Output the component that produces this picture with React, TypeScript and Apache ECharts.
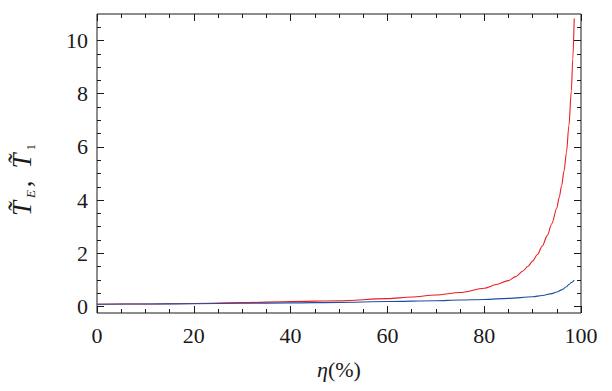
import React, { useEffect, useRef } from "react";
import * as echarts from "echarts";

// η (%) values and curve values
const redEta = [0, 10, 20, 30, 40, 50, 60, 65, 70, 75, 80, 82.5, 85, 86.5, 88, 89, 90, 91, 92, 93, 94, 95, 95.5, 96, 96.5, 97, 97.5, 98, 98.3, 98.6];
const redT = [0.08, 0.09, 0.11, 0.14, 0.18, 0.21, 0.29, 0.35, 0.43, 0.52, 0.68, 0.82, 0.97, 1.12, 1.33, 1.5, 1.7, 1.95, 2.27, 2.65, 3.12, 3.7, 4.1, 4.55, 5.1, 5.8, 6.8, 8.1, 9.3, 10.83];

const blueEta = [0, 10, 20, 30, 40, 50, 60, 70, 75, 80, 85, 90, 92, 94, 95, 96, 97, 97.5, 98, 98.6];
const blueT = [0.08, 0.09, 0.1, 0.115, 0.13, 0.15, 0.18, 0.21, 0.24, 0.26, 0.3, 0.36, 0.41, 0.48, 0.54, 0.62, 0.74, 0.82, 0.9, 0.99];

// tick values
const yMajorTicks = [0, 2, 4, 6, 8, 10];
const yMinorTicks = [0.5, 1, 1.5, 2.5, 3, 3.5, 4.5, 5, 5.5, 6.5, 7, 7.5, 8.5, 9, 9.5, 10.5];

const FONT = "Liberation Serif";
const INK = "#1a1a1a";

export default function App() {
  const ref = useRef<HTMLDivElement>(null);
  useEffect(() => {
    if (!ref.current) return;
    const chart = echarts.init(ref.current, null, { renderer: "svg" });
    const gridPos = { left: 97, right: 31, top: 14, bottom: 78, containLabel: false };
    const lineStyle = { color: INK, width: 1 };
    const labelRich = { a: { fontFamily: FONT, fontSize: 22, color: INK } };
    const xBase = {
      type: "value",
      min: 0,
      max: 100,
      interval: 20,
      splitLine: { show: false },
      axisLine: { show: false, onZero: false },
      axisTick: { show: true, inside: true, length: 7, lineStyle },
      minorTick: { show: true, splitNumber: 4, length: 4, lineStyle },
    };
    const yBase = {
      type: "value",
      min: -0.25,
      max: 11,
      splitLine: { show: false },
      axisLine: { show: false, onZero: false },
    };
    chart.setOption({
      animation: false,
      textStyle: { fontFamily: FONT, color: INK },
      grid: [
        { ...gridPos, show: true, borderColor: INK, borderWidth: 1, backgroundColor: "transparent" },
        gridPos,
      ],
      xAxis: [
        {
          ...xBase,
          gridIndex: 0,
          position: "bottom",
          axisLabel: {
            fontFamily: FONT,
            fontSize: 22,
            color: INK,
            margin: 11,
            formatter: (v: number) => `{a|${v}}`,
            rich: labelRich,
          },
          name: "{i|η}{n|(%)}",
          nameLocation: "middle",
          nameGap: 45,
          nameTextStyle: {
            rich: {
              i: { fontFamily: FONT, fontSize: 22, fontStyle: "italic", color: INK },
              n: { fontFamily: FONT, fontSize: 22, color: INK },
            },
          },
        },
        {
          ...xBase,
          gridIndex: 0,
          position: "top",
          axisLabel: { show: false },
        },
        {
          type: "value",
          gridIndex: 1,
          min: 0,
          max: 100,
          show: false,
        },
      ],
      yAxis: [
        {
          ...yBase,
          gridIndex: 0,
          position: "left",
          axisTick: { show: true, inside: true, length: 7, lineStyle, customValues: yMajorTicks },
          axisLabel: {
            fontFamily: FONT,
            fontSize: 22,
            color: INK,
            margin: 9,
            customValues: yMajorTicks,
            formatter: (v: number) => `{a|${v}}`,
            rich: labelRich,
          },
        },
        {
          ...yBase,
          gridIndex: 0,
          position: "right",
          axisTick: { show: true, inside: true, length: 7, lineStyle, customValues: yMajorTicks },
          axisLabel: { show: false },
        },
        {
          ...yBase,
          gridIndex: 1,
          position: "left",
          axisTick: { show: true, inside: true, length: 4, lineStyle, customValues: yMinorTicks },
          axisLabel: { show: false },
        },
        {
          ...yBase,
          gridIndex: 1,
          position: "right",
          axisTick: { show: true, inside: true, length: 4, lineStyle, customValues: yMinorTicks },
          axisLabel: { show: false },
        },
      ],
      series: [
        {
          type: "line",
          xAxisIndex: 0,
          yAxisIndex: 0,
          data: redEta.map((e, i) => [e, redT[i]]),
          showSymbol: false,
          smooth: 0.3,
          smoothMonotone: "x",
          lineStyle: { color: "#ec1c24", width: 1.1 },
        },
        {
          type: "line",
          xAxisIndex: 0,
          yAxisIndex: 0,
          data: blueEta.map((e, i) => [e, blueT[i]]),
          showSymbol: false,
          smooth: 0.3,
          smoothMonotone: "x",
          lineStyle: { color: "#1c4fa3", width: 1.1 },
        },
      ],
      graphic: [
        {
          type: "text",
          x: 22,
          y: 180,
          rotation: Math.PI / 2,
          style: {
            text: "{t|T\u0303}{s|E}{c|,}{t|T\u0303}{u|1}",
            align: "center",
            verticalAlign: "middle",
            rich: {
              t: { fontFamily: FONT, fontSize: 27, fontStyle: "italic", fill: INK, lineHeight: 30, padding: [0, 3, 0, 0] },
              s: { fontFamily: FONT, fontSize: 13, fontStyle: "italic", fill: INK, lineHeight: 13, verticalAlign: "bottom", padding: [0, 3, 0, 0] },
              c: { fontFamily: FONT, fontSize: 27, fill: INK, lineHeight: 30, padding: [0, 12, 0, 0] },
              u: { fontFamily: FONT, fontSize: 13, fill: INK, lineHeight: 13, verticalAlign: "bottom" },
            },
          },
        },
      ],
    });
    return () => chart.dispose();
  }, []);
  return (
    <div
      ref={ref}
      style={{ position: "fixed", left: 0, top: 0, width: 612, height: 391, background: "#fff" }}
    />
  );
}
